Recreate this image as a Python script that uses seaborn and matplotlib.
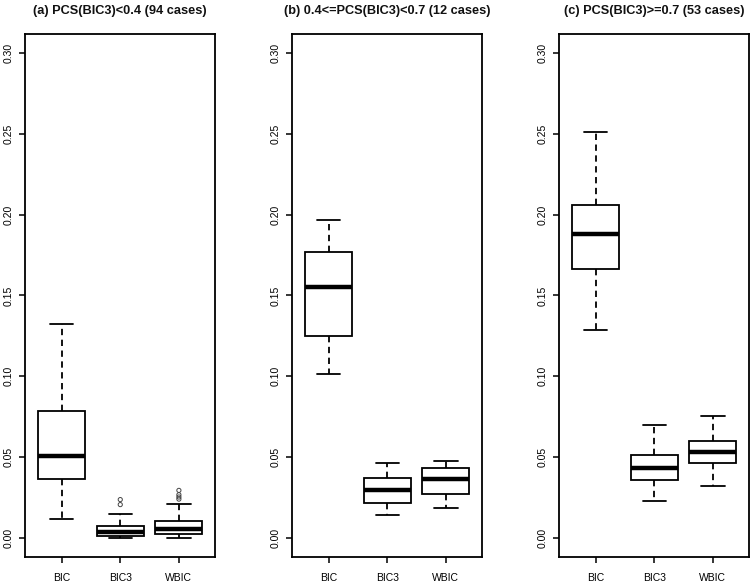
import numpy as np
import pandas as pd
import matplotlib
matplotlib.use("Agg")
import matplotlib.pyplot as plt
import seaborn as sns

methods = ["BIC", "BIC3", "WBIC"]
titles = ["(a) PCS(BIC3)<0.4 (94 cases)",
          "(b) 0.4<=PCS(BIC3)<0.7 (12 cases)",
          "(c) PCS(BIC3)>=0.7 (53 cases)"]

# five-number summaries: low whisker, Q1, median, Q3, high whisker
a_bic = [0.0119, 0.0367, 0.0509, 0.0783, 0.1322]
a_bic3 = [0.0000, 0.0011, 0.0036, 0.0071, 0.0147]
a_wbic = [0.0000, 0.0024, 0.0054, 0.0102, 0.0209]

b_bic = [0.1017, 0.1250, 0.1555, 0.1772, 0.1968]
b_bic3 = [0.0139, 0.0214, 0.0294, 0.0373, 0.0466]
b_wbic = [0.0185, 0.0274, 0.0362, 0.0432, 0.0478]

c_bic = [0.1285, 0.1664, 0.1879, 0.2057, 0.2511]
c_bic3 = [0.0226, 0.0360, 0.0432, 0.0515, 0.0698]
c_wbic = [0.0323, 0.0463, 0.0534, 0.0599, 0.0754]

# outliers (only panel a has them)
a_out_method = ["BIC3", "BIC3", "WBIC", "WBIC", "WBIC", "WBIC"]
a_out_value = [0.0206, 0.0237, 0.0240, 0.0253, 0.0267, 0.0294]

yticks = [0.00, 0.05, 0.10, 0.15, 0.20, 0.25, 0.30]


def make_frame(bic, bic3, wbic):
    rows = []
    for name, vals in zip(methods, [bic, bic3, wbic]):
        for v in vals:
            rows.append({"method": name, "value": v})
    return pd.DataFrame(rows)


panels = [make_frame(a_bic, a_bic3, a_wbic),
          make_frame(b_bic, b_bic3, b_wbic),
          make_frame(c_bic, c_bic3, c_wbic)]
outliers = [pd.DataFrame({"method": a_out_method, "value": a_out_value}), None, None]

sns.set_style("ticks")
plt.rcParams['font.family'] = ['Liberation Sans', 'DejaVu Sans']

fig = plt.figure(figsize=(7.5, 5.83), dpi=100)
lefts = [0.0337, 0.3897, 0.7457]

for i in range(3):
    ax = fig.add_axes([lefts[i], 0.0441, 0.2533, 0.8981])
    sns.boxplot(data=panels[i], x="method", y="value", order=methods, ax=ax,
                whis=(0, 100), width=0.8, color="white", linecolor="black",
                linewidth=1.3,
                medianprops={"linewidth": 3.2, "solid_capstyle": "butt"},
                whiskerprops={"linestyle": (0, (3.5, 2.5))})
    if outliers[i] is not None:
        n_before = len(ax.collections)
        sns.stripplot(data=outliers[i], x="method", y="value", order=methods,
                      jitter=False, ax=ax, size=3.0, color="black")
        for coll in ax.collections[n_before:]:
            coll.set_facecolor("none")
            coll.set_edgecolor("#444444")
            coll.set_linewidth(0.7)
    ax.set_xlim(-0.62, 2.62)
    ax.set_ylim(-0.012, 0.312)
    ax.set_yticks(yticks)
    ax.set_yticklabels([f"{t:.2f}" for t in yticks], rotation=90, va="center")
    ax.set_xlabel("")
    ax.set_ylabel("")
    ax.tick_params(axis="both", length=4.3, width=1.1, labelsize=7.5,
                   colors="black", direction="out")
    ax.tick_params(axis="x", pad=7)
    ax.tick_params(axis="y", pad=4)
    for s in ax.spines.values():
        s.set_linewidth(1.3)
        s.set_color("black")
    ax.set_title(titles[i], fontsize=9.2, fontweight="bold", pad=14, color="#111111")

fig.savefig("out.png", dpi=100)
